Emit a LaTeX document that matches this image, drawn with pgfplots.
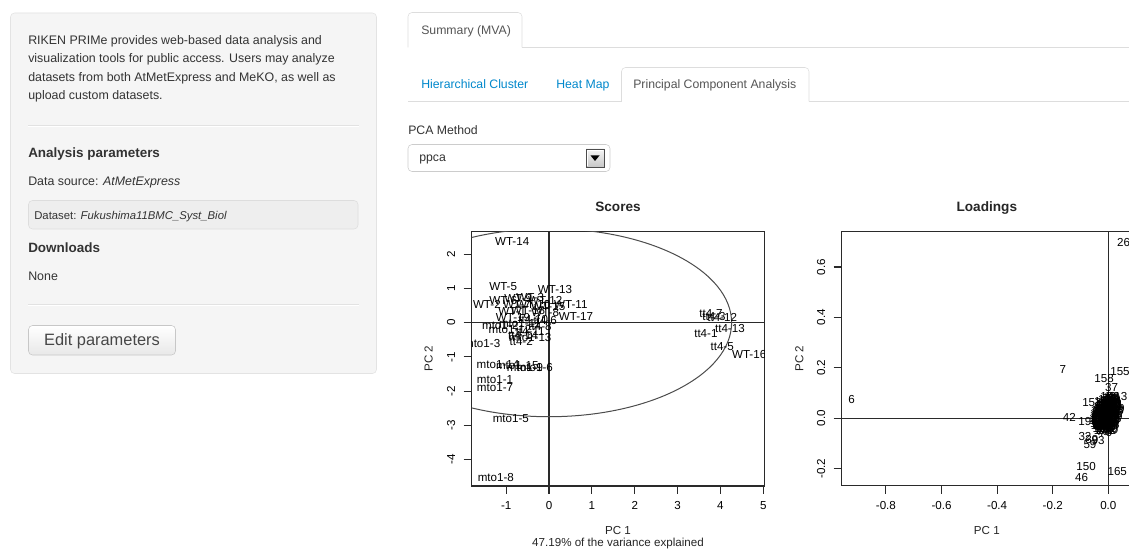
\documentclass[border=0pt]{standalone}
\usepackage{fontspec}
\setmainfont{Liberation Sans}
\usepackage{pgfplots}
\usepackage{pgfplotstable}
\pgfplotsset{compat=1.18}

\definecolor{txt}{HTML}{333333}
\definecolor{wellbg}{HTML}{F5F5F5}
\definecolor{wellbd}{HTML}{E3E3E3}
\definecolor{hrc}{HTML}{E2E2E2}
\definecolor{linkc}{HTML}{0088CC}
\definecolor{tabbd}{HTML}{DDDDDD}
\definecolor{tabtxt}{HTML}{555555}
\definecolor{plotln}{HTML}{2A2A2A}
\definecolor{selbd}{HTML}{CCCCCC}
\definecolor{dsbg}{HTML}{EEEEEE}
\definecolor{dsbd}{HTML}{DDDDDD}

\newcommand{\fs}[1]{\fontsize{#1}{#1}\selectfont}

\pgfplotstableread{
x y label
-0.86 2.36 WT-14
-1.07 1.07 WT-5
0.14 0.96 WT-13
0.51 0.52 WT-11
0.63 0.17 WT-17
-1.45 0.52 WT-2
-1.07 0.66 WT-6
-0.72 0.72 WT-9
-0.44 0.75 WT-3
-0.09 0.66 WT-12
-0.75 0.52 WT-7
-0.37 0.52 WT-10
-0.02 0.46 WT-15
-0.86 0.34 WT-1
-0.49 0.37 WT-18
-0.09 0.31 WT-8
-0.84 0.14 WT-19
-0.37 0.08 tt4-10
-0.09 0.05 tt4-6
-1.14 -0.07 mto1-2
-0.68 -0.04 mto1-11
-0.21 -0.10 tt4-8
-0.91 -0.21 mto1-12
-0.44 -0.27 tt4-11
-0.61 -0.39 tt4-14
-0.44 -0.42 mto1-13
-0.65 -0.56 tt4-2
-1.56 -0.62 mto1-3
-1.19 -1.21 mto1-14
-0.74 -1.24 mto1-15
-0.56 -1.30 mto1-9
-0.33 -1.30 mto1-6
-1.26 -1.65 mto1-1
-1.26 -1.91 mto1-7
-0.89 -2.79 mto1-5
-1.24 -4.54 mto1-8
3.78 0.28 tt4-7
3.85 0.17 tt4-3
4.04 0.14 tt4-12
4.22 -0.18 tt4-13
3.66 -0.33 tt4-1
4.04 -0.71 tt4-5
4.67 -0.92 WT-16
}\scoresdata

\pgfplotstableread{
x y label
-0.923 0.073 6
-0.164 0.194 7
0.055 0.697 26
0.042 0.184 155
-0.015 0.156 158
0.012 0.121 37
-0.140 0.002 42
-0.080 -0.192 150
-0.096 -0.236 46
0.032 -0.212 165
-0.084 -0.074 32
-0.037 -0.090 93
-0.066 -0.106 59
-0.059 -0.086 39
-0.073 -0.013 190
-0.059 0.062 152
0.035 0.086 113
0.013 -0.046 40
-0.003 0.085 1
0.006 0.085 102
0.015 0.085 3
-0.012 0.075 4
-0.002 0.075 105
0.008 0.075 8
0.018 0.075 9
-0.018 0.065 110
-0.008 0.065 11
0.002 0.065 12
0.012 0.065 131
0.022 0.065 14
-0.022 0.055 16
-0.012 0.055 117
-0.002 0.055 18
0.008 0.055 20
0.018 0.055 121
0.025 0.055 22
-0.027 0.045 23
-0.017 0.045 124
-0.007 0.045 25
0.003 0.045 27
0.013 0.045 128
0.023 0.045 29
-0.030 0.035 30
-0.020 0.035 31
-0.010 0.035 134
0.000 0.035 35
0.010 0.035 36
0.020 0.035 138
-0.033 0.025 38
-0.023 0.025 141
-0.013 0.025 43
-0.003 0.025 44
0.007 0.025 145
0.017 0.025 47
-0.035 0.015 48
-0.025 0.015 149
-0.015 0.015 50
-0.005 0.015 51
0.005 0.015 153
0.015 0.015 52
-0.036 0.005 53
-0.026 0.005 154
-0.016 0.005 55
-0.006 0.005 56
0.004 0.005 157
0.013 0.005 57
-0.036 -0.005 58
-0.026 -0.005 160
-0.016 -0.005 60
-0.006 -0.005 61
0.004 -0.005 162
0.011 -0.005 62
-0.035 -0.015 63
-0.025 -0.015 163
-0.015 -0.015 64
-0.005 -0.015 65
0.005 -0.015 166
-0.033 -0.025 66
-0.023 -0.025 167
-0.013 -0.025 67
-0.003 -0.025 68
0.006 -0.025 168
-0.030 -0.035 69
-0.020 -0.035 70
-0.010 -0.035 169
0.000 -0.035 71
-0.025 -0.045 72
-0.015 -0.045 73
-0.005 -0.045 74
-0.020 -0.055 75
-0.010 -0.055 76
0.001 0.080 77
0.011 0.080 78
0.020 0.080 79
-0.007 0.070 80
0.003 0.070 81
0.013 0.070 82
0.022 0.070 83
-0.015 0.060 84
-0.005 0.060 85
0.005 0.060 86
0.015 0.060 87
0.024 0.060 88
-0.020 0.050 89
-0.010 0.050 90
0.000 0.050 91
0.010 0.050 92
0.020 0.050 94
-0.025 0.040 95
-0.015 0.040 96
-0.005 0.040 97
0.005 0.040 98
0.015 0.040 99
0.024 0.040 100
-0.028 0.030 101
-0.018 0.030 103
-0.008 0.030 104
0.002 0.030 106
0.012 0.030 107
0.021 0.030 108
-0.031 0.020 109
-0.021 0.020 111
-0.011 0.020 112
-0.001 0.020 114
0.009 0.020 115
0.018 0.020 116
-0.033 0.010 118
-0.023 0.010 119
-0.013 0.010 120
-0.003 0.010 122
0.007 0.010 123
0.016 0.010 125
-0.034 0.000 126
-0.024 0.000 127
-0.014 0.000 129
-0.004 0.000 130
0.006 0.000 132
0.013 0.000 133
-0.033 -0.010 135
-0.023 -0.010 136
-0.013 -0.010 137
-0.003 -0.010 139
0.007 -0.010 140
-0.031 -0.020 142
-0.021 -0.020 143
-0.011 -0.020 144
-0.001 -0.020 146
0.008 -0.020 147
-0.028 -0.030 148
-0.018 -0.030 151
-0.008 -0.030 156
0.002 -0.030 159
-0.022 -0.040 161
-0.012 -0.040 164
-0.002 -0.040 170
-0.017 -0.050 171
-0.007 -0.050 172
}\loaddata

\pgfplotsset{
  rplot/.style={
    scale only axis,
    axis line style={plotln, line width=0.8pt},
    every tick/.style={plotln, line width=0.8pt},
    tick align=outside,
    major tick length=6pt,
    xtick pos=bottom, ytick pos=left,
    xticklabel style={font=\fs{8.7}, anchor=base, text=black},
    yticklabel style={font=\fs{8.7}, rotate=90, anchor=base, text=black},
    xticklabel shift=12pt,
    yticklabel shift=6.5pt,
    clip marker paths=true,
    every axis title shift=0pt,
    title style={font=\fs{10.2}\bfseries, anchor=base, text=black!85},
    label style={font=\fs{8.7}, text=black!85},
  },
  lbl/.style={draw=none, nodes near coords, point meta=explicit symbolic,
    every node near coord/.append style={font=\fs{8.7}, anchor=center, inner sep=0pt, text=black}},
}

\begin{document}
\begin{tikzpicture}
\path[use as bounding box] (0pt,0pt) rectangle (846.75pt,-411.75pt);
\clip (0pt,0pt) rectangle (846.75pt,-411.75pt);
\fill[white] (0pt,0pt) rectangle (846.75pt,-411.75pt);
\begin{scope}[x=0.75pt,y=-0.75pt]
% sidebar
\draw[wellbd, fill=wellbg, rounded corners=3pt] (10.5,13) rectangle (376.5,373.5);
\begin{scope}[every node/.style={anchor=base west, inner sep=0pt, text=txt, font=\fs{9.3}}]
\node at (28,44.3) {RIKEN PRIMe provides web-based data analysis and};
\node at (28,62.8) {visualization tools for public access. Users may analyze};
\node at (28,81.3) {datasets from both AtMetExpress and MeKO, as well as};
\node at (28,99.8) {upload custom datasets.};
\node[font=\fs{10.1}\bfseries] at (28,158) {Analysis parameters};
\node at (28,185.3) {Data source: \textit{AtMetExpress}};
\node[font=\fs{10.1}\bfseries] at (28,252.3) {Downloads};
\node at (28,280.7) {None};
\end{scope}
\draw[hrc] (28,125) -- (359,125);
\draw[white] (28,126) -- (359,126);
\draw[hrc] (28,304.3) -- (359,304.3);
\draw[white] (28,305.3) -- (359,305.3);
\draw[dsbd, fill=dsbg, rounded corners=3pt] (28.5,200.5) rectangle (358,229);
\node[anchor=base west, inner sep=0pt, text=txt, font=\fs{8.5}] at (34,219.3) {Dataset: \textit{Fukushima11BMC\_Syst\_Biol}};
\path[top color=white, bottom color=black!9, draw=black!22, rounded corners=3pt] (28.5,325.5) rectangle (175.5,355);
\node[anchor=base, inner sep=0pt, text=black!72, font=\fs{12.3}] at (102,345.7) {Edit parameters};
% tabs row 1
\draw[tabbd, rounded corners=3pt] (408,47.5) -- (408,12.5) -- (522,12.5) -- (522,47.5);
\draw[tabbd] (522,47.5) -- (1129,47.5);
\node[anchor=base west, inner sep=0pt, text=tabtxt, font=\fs{9.2}] at (421,34.5) {Summary (MVA)};
% tabs row 2
\draw[tabbd, rounded corners=3pt] (621.5,101.5) -- (621.5,67.5) -- (809,67.5) -- (809,101.5);
\draw[tabbd] (408,101.5) -- (621.5,101.5);
\draw[tabbd] (809,101.5) -- (1129,101.5);
\node[anchor=base west, inner sep=0pt, text=linkc, font=\fs{9.2}] at (421,88.5) {Hierarchical Cluster};
\node[anchor=base west, inner sep=0pt, text=linkc, font=\fs{9.2}] at (556,88.5) {Heat Map};
\node[anchor=base west, inner sep=0pt, text=tabtxt, font=\fs{9.2}] at (633,88.5) {Principal Component Analysis};
% PCA method
\node[anchor=base west, inner sep=0pt, text=txt, font=\fs{9.2}] at (408,134.5) {PCA Method};
\draw[selbd, fill=white, rounded corners=3pt] (408,144.5) rectangle (610,171.5);
\node[anchor=base west, inner sep=0pt, text=txt, font=\fs{9.2}] at (419,161.5) {ppca};
\path[top color=black!4, bottom color=black!22, draw=black!70] (586,149) rectangle (604,167);
\draw[white] (587,166) -- (587,150) -- (603,150);
\fill[black] (590.5,155.5) -- (599.5,155.5) -- (595,161) -- cycle;
% anchor coordinates for the plots
\coordinate (S) at (471.7,231.7);
\coordinate (L) at (841.7,231.7);
\end{scope}

% Scores
\begin{axis}[rplot, at={(S)}, anchor=north west,
  width=219.45pt, height=190.7pt,
  xmin=-1.804, xmax=5.023, ymin=-4.775, ymax=2.661,
  xtick={-1,0,1,2,3,4,5}, xticklabels={-1,0,1,2,3,4,5},
  ytick={-4,-3,-2,-1,0,1,2}, yticklabels={-4,-3,-2,-1,0,1,2},
  title={Scores}, title style={at={(axis description cs:0.5,1.0787)}},
  xlabel={PC 1}, xlabel style={at={(axis description cs:0.5,-0.190)}, anchor=base},
  ylabel={PC 2}, ylabel style={at={(axis description cs:-0.1334,0.5)}, anchor=base},
  extra description/.code={\node[anchor=base, inner sep=0pt, font=\fs{8.7}, text=black!85] at (0.5,-0.2379) {47.19\% of the variance explained};},
]
\addplot[plotln, line width=0.8pt] coordinates {(-1.804,0) (5.023,0)};
\addplot[plotln, line width=0.8pt] coordinates {(0,-4.775) (0,2.661)};
\draw[black!70, line width=0.75pt] (axis cs:0,0) ellipse [x radius=4.26, y radius=2.75];
\addplot[lbl] table[x=x, y=y, meta=label] {\scoresdata};
\end{axis}

% Loadings
\begin{axis}[rplot, at={(L)}, anchor=north west,
  width=217.7pt, height=190.7pt,
  xmin=-0.959, xmax=0.085, ymin=-0.269, ymax=0.740,
  xtick={-0.8,-0.6,-0.4,-0.2,0}, xticklabels={-0.8,-0.6,-0.4,-0.2,0.0},
  ytick={-0.2,0,0.2,0.4,0.6}, yticklabels={-0.2,0.0,0.2,0.4,0.6},
  title={Loadings}, title style={at={(axis description cs:0.5,1.0787)}},
  xlabel={PC 1}, xlabel style={at={(axis description cs:0.5,-0.190)}, anchor=base},
  ylabel={PC 2}, ylabel style={at={(axis description cs:-0.1323,0.5)}, anchor=base},
]
\addplot[plotln, line width=0.8pt] coordinates {(-0.959,0) (0.085,0)};
\addplot[plotln, line width=0.8pt] coordinates {(0,-0.269) (0,0.740)};
\addplot[lbl] table[x=x, y=y, meta=label] {\loaddata};
\end{axis}
\end{tikzpicture}
\end{document}
